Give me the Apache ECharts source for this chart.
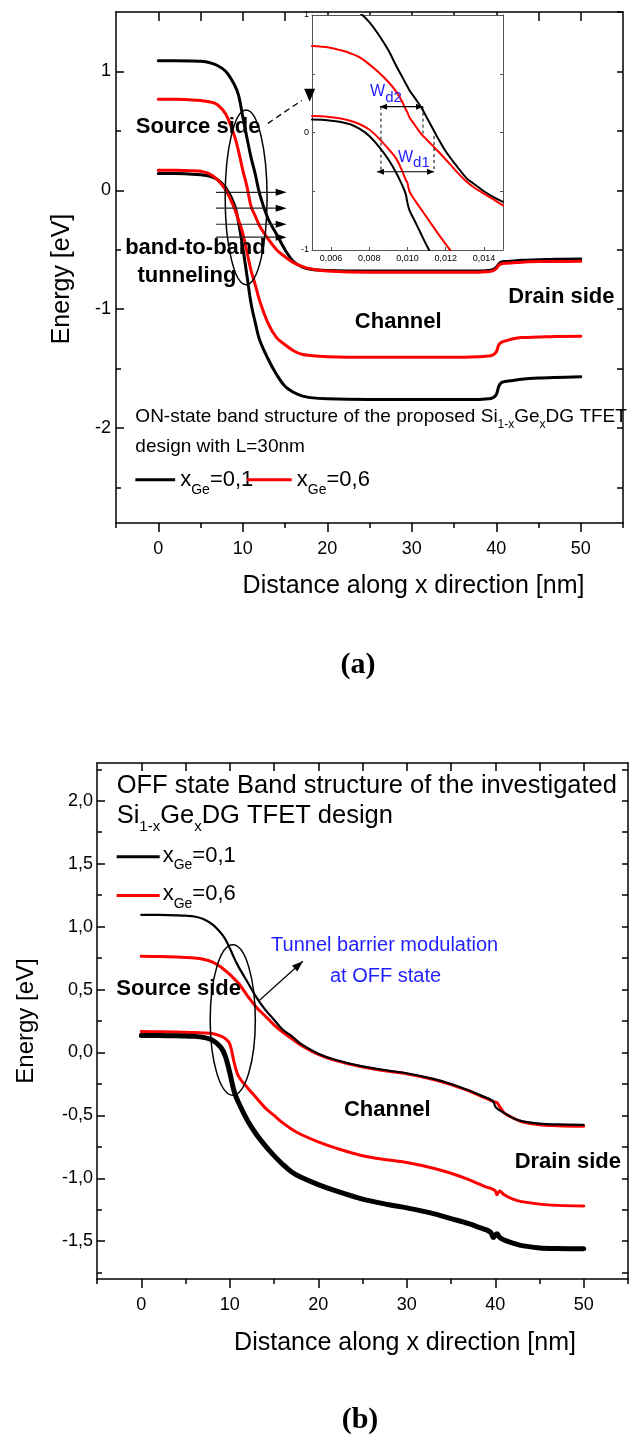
<!DOCTYPE html>
<html>
<head>
<meta charset="utf-8">
<title>Band structure of the Si1-xGex DG TFET</title>
<script src="https://cdn.jsdelivr.net/npm/echarts@6.0.0/dist/echarts.min.js"></script>
<style>
    html, body { margin: 0; padding: 0; background: #fff; }
    #main { width: 630px; height: 1435px; }
</style>
</head>
<body>
<div id="main"></div>
<script type="text/javascript">
// ---------- data ----------
// (a) ON state, distance in nm, energy in eV
var distA = [0, 2, 4, 5, 6, 7, 8, 9, 9.5, 10, 10.5, 11, 11.5, 12, 13, 14, 15, 16, 17, 18,
             20, 25, 30, 35, 38, 39, 39.5, 40, 40.3, 40.6, 41, 42, 43, 45, 47, 50];
var ecA_ge01 = [1.09, 1.09, 1.088, 1.085, 1.075, 1.05, 1.0, 0.89, 0.8, 0.62, 0.44, 0.27, 0.13, -0.03, -0.24, -0.37, -0.5, -0.6, -0.645, -0.665,
                -0.675, -0.68, -0.68, -0.68, -0.68, -0.675, -0.67, -0.65, -0.62, -0.605, -0.6, -0.595, -0.59, -0.585, -0.58, -0.578];
var ecA_ge06 = [0.765, 0.765, 0.76, 0.755, 0.745, 0.72, 0.64, 0.46, 0.33, 0.17, 0.03, -0.14, -0.22, -0.3, -0.41, -0.5, -0.56, -0.61, -0.64, -0.66,
                -0.68, -0.69, -0.69, -0.69, -0.69, -0.685, -0.68, -0.66, -0.63, -0.62, -0.615, -0.61, -0.605, -0.6, -0.6, -0.598];
var evA_ge06 = [0.168, 0.168, 0.165, 0.16, 0.14, 0.09, 0.0, -0.15, -0.25, -0.36, -0.52, -0.68, -0.8, -0.93, -1.12, -1.24, -1.3, -1.35, -1.38, -1.39,
                -1.4, -1.405, -1.405, -1.405, -1.4, -1.395, -1.39, -1.36, -1.3, -1.28, -1.27, -1.25, -1.24, -1.235, -1.23, -1.228];
var evA_ge01 = [0.14, 0.14, 0.135, 0.13, 0.12, 0.09, 0.02, -0.12, -0.27, -0.48, -0.72, -0.96, -1.12, -1.26, -1.42, -1.55, -1.65, -1.7, -1.73, -1.745,
                -1.755, -1.76, -1.76, -1.76, -1.76, -1.755, -1.75, -1.72, -1.65, -1.62, -1.61, -1.6, -1.59, -1.58, -1.575, -1.57];

// (a) inset, distance in um
var distInset = [0.005, 0.0055, 0.006, 0.0065, 0.007, 0.0075, 0.008, 0.0085, 0.009, 0.0094, 0.0097, 0.0099, 0.01,
                 0.0101, 0.0104, 0.0107, 0.011, 0.0113, 0.0116, 0.012, 0.0125, 0.0131, 0.0135, 0.014, 0.0145, 0.015];
var ecIn_ge01 = [null, null, null, null, 1.08, 1.02, 0.94, 0.83, 0.7, 0.57, 0.48, 0.42, 0.39,
                 0.36, 0.29, 0.22, 0.13, 0.04, -0.05, -0.16, -0.27, -0.39, -0.44, -0.5, -0.55, -0.59];
var ecIn_ge06 = [0.736, 0.73, 0.72, 0.7, 0.675, 0.64, 0.58, 0.51, 0.43, 0.35, 0.27, 0.2, 0.17,
                 0.13, 0.06, -0.01, -0.06, -0.11, -0.16, -0.23, -0.32, -0.42, -0.47, -0.52, -0.57, -0.62];
var evIn_ge06 = [0.14, 0.138, 0.13, 0.12, 0.1, 0.07, 0.025, -0.05, -0.14, -0.22, -0.32, -0.4, -0.43,
                 -0.5, -0.58, -0.65, -0.72, -0.79, -0.86, -0.95, -1.06, null, null, null, null, null];
var evIn_ge01 = [0.11, 0.108, 0.1, 0.09, 0.07, 0.03, -0.03, -0.12, -0.23, -0.34, -0.44, -0.52, -0.6,
                 -0.66, -0.76, -0.86, -0.96, -1.05, null, null, null, null, null, null, null, null];

// (b) OFF state
var distB = [0, 2, 4, 5, 6, 7, 8, 9, 9.5, 10, 10.5, 11, 12, 13, 14, 15, 16, 17, 18, 20,
             22, 25, 28, 30, 33, 35, 37, 38, 39, 39.5, 39.8, 40, 40.2, 40.5, 41, 42, 43, 45, 47, 50];
var ecB_ge01 = [1.094, 1.093, 1.09, 1.087, 1.08, 1.06, 1.02, 0.95, 0.9, 0.83, 0.75, 0.68, 0.56, 0.44, 0.34, 0.26, 0.18, 0.13, 0.07, -0.01,
                -0.06, -0.11, -0.145, -0.165, -0.21, -0.25, -0.3, -0.33, -0.36, -0.375, -0.39, -0.43, -0.445, -0.46, -0.48, -0.52, -0.545, -0.565, -0.572, -0.575];
var ecB_ge06 = [0.764, 0.762, 0.758, 0.755, 0.75, 0.74, 0.72, 0.68, 0.65, 0.62, 0.585, 0.55, 0.45, 0.36, 0.29, 0.22, 0.16, 0.11, 0.06, -0.015,
                -0.065, -0.115, -0.15, -0.17, -0.215, -0.255, -0.305, -0.335, -0.365, -0.38, -0.39, -0.395, -0.4, -0.43, -0.48, -0.52, -0.55, -0.575, -0.582, -0.587];
var evB_ge06 = [0.166, 0.165, 0.163, 0.16, 0.158, 0.155, 0.15, 0.13, 0.11, 0.07, -0.08, -0.19, -0.28, -0.36, -0.44, -0.5, -0.56, -0.61, -0.65, -0.71,
                -0.76, -0.82, -0.855, -0.875, -0.92, -0.96, -1.01, -1.04, -1.07, -1.08, -1.09, -1.1, -1.13, -1.1, -1.13, -1.165, -1.185, -1.205, -1.215, -1.22];
var evB_ge01 = [0.135, 0.134, 0.132, 0.13, 0.128, 0.12, 0.1, 0.04, -0.03, -0.16, -0.31, -0.4, -0.54, -0.65, -0.74, -0.82, -0.89, -0.95, -0.99, -1.05,
                -1.1, -1.165, -1.21, -1.235, -1.28, -1.32, -1.36, -1.385, -1.41, -1.43, -1.47, -1.45, -1.44, -1.47, -1.49, -1.515, -1.535, -1.553, -1.558, -1.56];

// tick positions
var xTicks = [0, 10, 20, 30, 40, 50];
var xTicksMinor = [-5, 5, 15, 25, 35, 45, 55];
var xTicksTop = [0, 5, 10, 15, 20, 25, 30, 35, 40, 45, 50];
var yTicksA = [-2, -1, 0, 1];
var yTicksAMinor = [-2.5, -1.5, -0.5, 0.5];
var yTicksARight = [-2.5, -2, -1.5, -1, -0.5, 0, 0.5, 1, 1.5];
var xTicksInset = [0.006, 0.008, 0.010, 0.012, 0.014];
var yTicksInset = [-1, 0, 1];
var yTicksInsetMinor = [-0.5, 0.5];
var yTicksB = [-1.5, -1, -0.5, 0, 0.5, 1, 1.5, 2];
var yTicksBMinor = [-1.75, -1.25, -0.75, -0.25, 0.25, 0.75, 1.25, 1.75, 2.25];

var FONT = '"Liberation Sans", Arial, Helvetica, sans-serif';
var BLUE = '#1f1fff';
var RED = '#ff0000';

var myChart = echarts.init(document.getElementById('main'), null, { renderer: 'canvas' });

function pairs(xs, ys) {
    return xs.map(function (x, i) { return [x, ys[i]]; });
}

function commaFmt(digits) {
    return function (v) { return v.toFixed(digits).replace('.', ','); };
}

// one axis; o.ticks / o.labels are custom value lists
function axis(gridIndex, position, min, max, o) {
    var col = o.color || '#000';
    var a = {
        type: 'value', gridIndex: gridIndex, position: position, min: min, max: max, z: o.z || 0,
        axisLine: { show: o.line !== false, onZero: false, lineStyle: { color: col, width: o.lineWidth || 1.5 } },
        axisTick: { show: !!o.ticks, inside: !!o.inside, length: o.len || 8,
                    lineStyle: { color: col, width: o.tickWidth || 1.5 } },
        axisLabel: { show: false },
        splitLine: { show: false }
    };
    if (o.ticks) a.axisTick.customValues = o.ticks;
    if (o.labels) {
        a.axisLabel = { show: true, customValues: o.labels, fontSize: o.fontSize || 18, fontFamily: FONT,
                        color: '#000', margin: o.margin, formatter: o.formatter };
    }
    if (o.name) {
        a.name = o.name;
        a.nameLocation = 'middle';
        a.nameGap = o.nameGap;
        a.nameTextStyle = { fontSize: o.nameSize, fontFamily: FONT, color: '#000', padding: o.namePad };
    }
    return a;
}

function line(name, xi, yi, data, color, width, z) {
    return {
        name: name, type: 'line', xAxisIndex: xi, yAxisIndex: yi, data: data,
        showSymbol: false, smooth: 0.35, z: z || 2,
        lineStyle: { color: color, width: width, cap: 'round', join: 'round' }, itemStyle: { color: color }
    };
}

var option = {
    animation: false,
    backgroundColor: '#fff',
    grid: [
        { left: 116, top: 12, width: 507, height: 511 },
        { left: 312, top: 15, width: 191, height: 235, show: true, backgroundColor: '#fff', borderWidth: 0, z: 5 },
        { left: 97, top: 763, width: 531, height: 516 }
    ],
    xAxis: [
        axis(0, 'bottom', -5, 55, { ticks: xTicks, len: 9, labels: xTicks, margin: 17,
            name: 'Distance along x direction [nm]', nameGap: 51, nameSize: 25, namePad: [0, 0, 0, 88] }),
        axis(0, 'bottom', -5, 55, { line: false, ticks: xTicksMinor, len: 5 }),
        axis(0, 'top', -5, 55, { ticks: xTicksTop, inside: true, len: 9 }),
        axis(1, 'bottom', 0.005, 0.015, { color: '#555', lineWidth: 1, tickWidth: 1, ticks: xTicksInset, inside: true, len: 3,
            labels: xTicksInset, fontSize: 9, margin: 4, formatter: commaFmt(3), z: 6 }),
        axis(1, 'top', 0.005, 0.015, { color: '#555', lineWidth: 1, z: 6 }),
        axis(2, 'bottom', -5, 55, { ticks: xTicks, len: 9, labels: xTicks, margin: 17,
            name: 'Distance along x direction [nm]', nameGap: 52, nameSize: 25, namePad: [0, 0, 0, 85] }),
        axis(2, 'bottom', -5, 55, { line: false, ticks: xTicksMinor, len: 5 }),
        axis(2, 'top', -5, 55, { ticks: xTicksTop, inside: true, len: 8 })
    ],
    yAxis: [
        axis(0, 'left', -2.8, 1.5, { ticks: yTicksA, inside: true, len: 8, labels: yTicksA, margin: 5,
            name: 'Energy [eV]', nameGap: 41, nameSize: 25, namePad: [0, 23, 0, 0] }),
        axis(0, 'left', -2.8, 1.5, { line: false, ticks: yTicksAMinor, inside: true, len: 5 }),
        axis(0, 'right', -2.8, 1.5, { ticks: yTicksARight, inside: true, len: 6 }),
        axis(1, 'left', -1, 1, { color: '#555', lineWidth: 1, tickWidth: 1, ticks: yTicksInset.concat(yTicksInsetMinor), inside: true, len: 3,
            labels: yTicksInset, fontSize: 9, margin: 3, z: 6 }),
        axis(1, 'right', -1, 1, { color: '#555', lineWidth: 1, tickWidth: 1, ticks: yTicksInset.concat(yTicksInsetMinor), inside: true, len: 3, z: 6 }),
        axis(2, 'left', -1.8, 2.3, { ticks: yTicksB, inside: true, len: 8, labels: yTicksB, margin: 4, formatter: commaFmt(1),
            name: 'Energy [eV]', nameGap: 59, nameSize: 24 }),
        axis(2, 'left', -1.8, 2.3, { line: false, ticks: yTicksBMinor, inside: true, len: 5 }),
        axis(2, 'right', -1.8, 2.3, { ticks: yTicksB.concat(yTicksBMinor), inside: true, len: 6 })
    ],
    series: [
        line('Ec x=0.1 (a)', 0, 0, pairs(distA, ecA_ge01), '#000', 3),
        line('Ev x=0.1 (a)', 0, 0, pairs(distA, evA_ge01), '#000', 3),
        line('Ec x=0.6 (a)', 0, 0, pairs(distA, ecA_ge06), RED, 3),
        line('Ev x=0.6 (a)', 0, 0, pairs(distA, evA_ge06), RED, 3),
        line('Ec x=0.1 inset', 3, 3, pairs(distInset, ecIn_ge01), '#000', 2, 7),
        line('Ev x=0.1 inset', 3, 3, pairs(distInset, evIn_ge01), '#000', 2, 7),
        line('Ec x=0.6 inset', 3, 3, pairs(distInset, ecIn_ge06), RED, 2, 7),
        line('Ev x=0.6 inset', 3, 3, pairs(distInset, evIn_ge06), RED, 2, 7),
        line('Ec x=0.6 (b)', 5, 5, pairs(distB, ecB_ge06), RED, 3),
        line('Ec x=0.1 (b)', 5, 5, pairs(distB, ecB_ge01), '#000', 2.2),
        line('Ev x=0.6 (b)', 5, 5, pairs(distB, evB_ge06), RED, 3),
        line('Ev x=0.1 (b)', 5, 5, pairs(distB, evB_ge01), '#000', 5)
    ]
};
myChart.setOption(option);

// ---------- annotations, anchored in data units ----------
var PANEL = { a: [0, 0], inset: [3, 3], b: [5, 5] };

function px(panel, pt) {
    return myChart.convertToPixel({ xAxisIndex: PANEL[panel][0], yAxisIndex: PANEL[panel][1] }, pt);
}

function text(p, str, o) {
    o = o || {};
    var st = {
        text: str, fill: o.color || '#000',
        fontSize: o.size || 22, fontFamily: o.family || FONT, fontWeight: o.bold ? 'bold' : 'normal',
        align: o.align || 'left', verticalAlign: 'middle',
        textAlign: o.align || 'left', textVerticalAlign: 'middle'
    };
    if (o.lh) st.lineHeight = o.lh;
    if (o.rich) st.rich = o.rich;
    return { type: 'text', x: p[0], y: p[1], z: 20, silent: true, style: st };
}

function sub(size, lh, color) {
    return { fontSize: size, lineHeight: lh, verticalAlign: 'bottom', fontFamily: FONT, fill: color || '#000', color: color || '#000' };
}

function seg(p1, p2, o) {
    o = o || {};
    return {
        type: 'line', z: 20, silent: true,
        shape: { x1: p1[0], y1: p1[1], x2: p2[0], y2: p2[1] },
        style: { stroke: o.color || '#000', lineWidth: o.width || 1.2, lineDash: o.dash || null }
    };
}

function head(tip, from, len, hw) {
    var dx = tip[0] - from[0], dy = tip[1] - from[1];
    var d = Math.sqrt(dx * dx + dy * dy), ux = dx / d, uy = dy / d;
    var bx = tip[0] - ux * len, by = tip[1] - uy * len;
    return {
        type: 'polygon', z: 20, silent: true,
        shape: { points: [[tip[0], tip[1]], [bx - uy * hw, by + ux * hw], [bx + uy * hw, by - ux * hw]] },
        style: { fill: '#000' }
    };
}

function ellipse(panel, c, rx, ry) {
    var pc = px(panel, c);
    var pr = px(panel, [c[0] + rx, c[1] + ry]);
    return {
        type: 'ellipse', z: 20, silent: true,
        shape: { cx: pc[0], cy: pc[1], rx: Math.abs(pr[0] - pc[0]), ry: Math.abs(pr[1] - pc[1]) },
        style: { fill: 'none', stroke: '#000', lineWidth: 1.5 }
    };
}

var g = [];

// ----- panel (a) -----
g.push(ellipse('a', [10.4, -0.06], 2.48, 0.735));
[-0.017, -0.151, -0.286, -0.395].forEach(function (y) {
    var p1 = px('a', [6.84, y]), p2 = px('a', [15.2, y]);
    g.push(seg(p1, [p2[0] - 6, p2[1]], { color: '#222', width: 1.2 }));
    g.push(head(p2, p1, 11, 3.5));
});
// dashed pointer to the inset
var zp1 = px('a', [12.97, 0.563]), zp2 = px('a', [16.98, 0.756]), zTip = px('a', [17.92, 0.745]);
g.push(seg(zp1, zp2, { width: 1.3, dash: [6, 4] }));
g.push({ type: 'polygon', z: 20, silent: true,
         shape: { points: [[zTip[0], zTip[1]], [zTip[0] - 5.5, zTip[1] - 13], [zTip[0] + 5.5, zTip[1] - 13]] },
         style: { fill: '#000' } });

g.push(text(px('a', [4.72, 0.53]), 'Source side', { bold: true, align: 'center' }));
g.push(text(px('a', [4.4, -0.487]), 'band-to-band', { bold: true, align: 'center' }));
g.push(text(px('a', [3.4, -0.723]), 'tunneling', { bold: true, align: 'center' }));
g.push(text(px('a', [28.4, -1.109]), 'Channel', { bold: true, align: 'center' }));
g.push(text(px('a', [47.7, -0.9]), 'Drain side', { bold: true, align: 'center' }));

g.push(text(px('a', [-2.71, -1.908]), 'ON-state band structure of the proposed Si{s|1-x}Ge{s|x}DG TFET',
            { size: 19, lh: 28, rich: { s: sub(12, 12) } }));
g.push(text(px('a', [-2.71, -2.16]), 'design with L=30nm', { size: 19 }));

// legend (a)
g.push(seg(px('a', [-2.71, -2.437]), px('a', [2.0, -2.437]), { width: 3 }));
g.push(text(px('a', [2.6, -2.437]), 'x{s|Ge}=0,1', { size: 22, lh: 34, rich: { s: sub(14, 14) } }));
g.push(seg(px('a', [10.5, -2.437]), px('a', [15.8, -2.437]), { color: RED, width: 3 }));
g.push(text(px('a', [16.4, -2.437]), 'x{s|Ge}=0,6', { size: 22, lh: 34, rich: { s: sub(14, 14) } }));

// ----- inset -----
var w2a = px('inset', [0.00856, 0.22]), w2b = px('inset', [0.01081, 0.22]);
g.push(seg(w2a, w2b, { width: 1.2 }));
g.push(head(w2a, w2b, 7, 3));
g.push(head(w2b, w2a, 7, 3));
var w1a = px('inset', [0.0084, -0.334]), w1b = px('inset', [0.01139, -0.334]);
g.push(seg(w1a, w1b, { width: 1.2 }));
g.push(head(w1a, w1b, 7, 3));
g.push(head(w1b, w1a, 7, 3));
g.push(seg(px('inset', [0.00861, 0.22]), px('inset', [0.00861, -0.334]), { width: 1, dash: [3, 3] }));
g.push(seg(px('inset', [0.01081, 0.22]), px('inset', [0.01081, -0.01]), { width: 1, dash: [3, 3] }));
g.push(seg(px('inset', [0.01139, -0.03]), px('inset', [0.01139, -0.334]), { width: 1, dash: [3, 3] }));
g.push(text(px('inset', [0.00804, 0.345]), 'W{s|d2}', { size: 16, lh: 26, color: BLUE, rich: { s: sub(15, 15, BLUE) } }));
g.push(text(px('inset', [0.0095, -0.21]), 'W{s|d1}', { size: 16, lh: 26, color: BLUE, rich: { s: sub(15, 15, BLUE) } }));

// ----- panel (b) -----
g.push(ellipse('b', [10.34, 0.258], 2.55, 0.597));
var tb1 = px('b', [13.39, 0.417]), tb2 = px('b', [18.26, 0.725]);
g.push(seg(tb1, tb2, { width: 1.2 }));
g.push(head(tb2, tb1, 11, 4));

g.push(text(px('b', [-2.78, 2.116]), 'OFF state Band structure of the investigated', { size: 25.5 }));
g.push(text(px('b', [-2.78, 1.879]), 'Si{s|1-x}Ge{s|x}DG TFET design', { size: 25.5, lh: 36, rich: { s: sub(15, 15) } }));
g.push(seg(px('b', [-2.78, 1.555]), px('b', [2.08, 1.555]), { width: 3 }));
g.push(text(px('b', [2.42, 1.565]), 'x{s|Ge}=0,1', { size: 22, lh: 34, rich: { s: sub(14, 14) } }));
g.push(seg(px('b', [-2.78, 1.247]), px('b', [2.08, 1.247]), { color: RED, width: 3 }));
g.push(text(px('b', [2.42, 1.257]), 'x{s|Ge}=0,6', { size: 22, lh: 34, rich: { s: sub(14, 14) } }));

g.push(text(px('b', [4.23, 0.504]), 'Source side', { bold: true, align: 'center' }));
g.push(text(px('b', [27.8, -0.453]), 'Channel', { bold: true, align: 'center' }));
g.push(text(px('b', [48.2, -0.873]), 'Drain side', { bold: true, align: 'center' }));
g.push(text(px('b', [27.5, 0.851]), 'Tunnel barrier modulation', { size: 20, color: BLUE, align: 'center' }));
g.push(text(px('b', [27.6, 0.606]), 'at OFF state', { size: 20, color: BLUE, align: 'center' }));

// panel captions
g.push(text([358, 665], '(a)', { size: 30, bold: true, align: 'center', family: '"Liberation Serif", "Times New Roman", serif' }));
g.push(text([360, 1420], '(b)', { size: 30, bold: true, align: 'center', family: '"Liberation Serif", "Times New Roman", serif' }));

myChart.setOption({ graphic: { elements: g } });
</script>
</body>
</html>
